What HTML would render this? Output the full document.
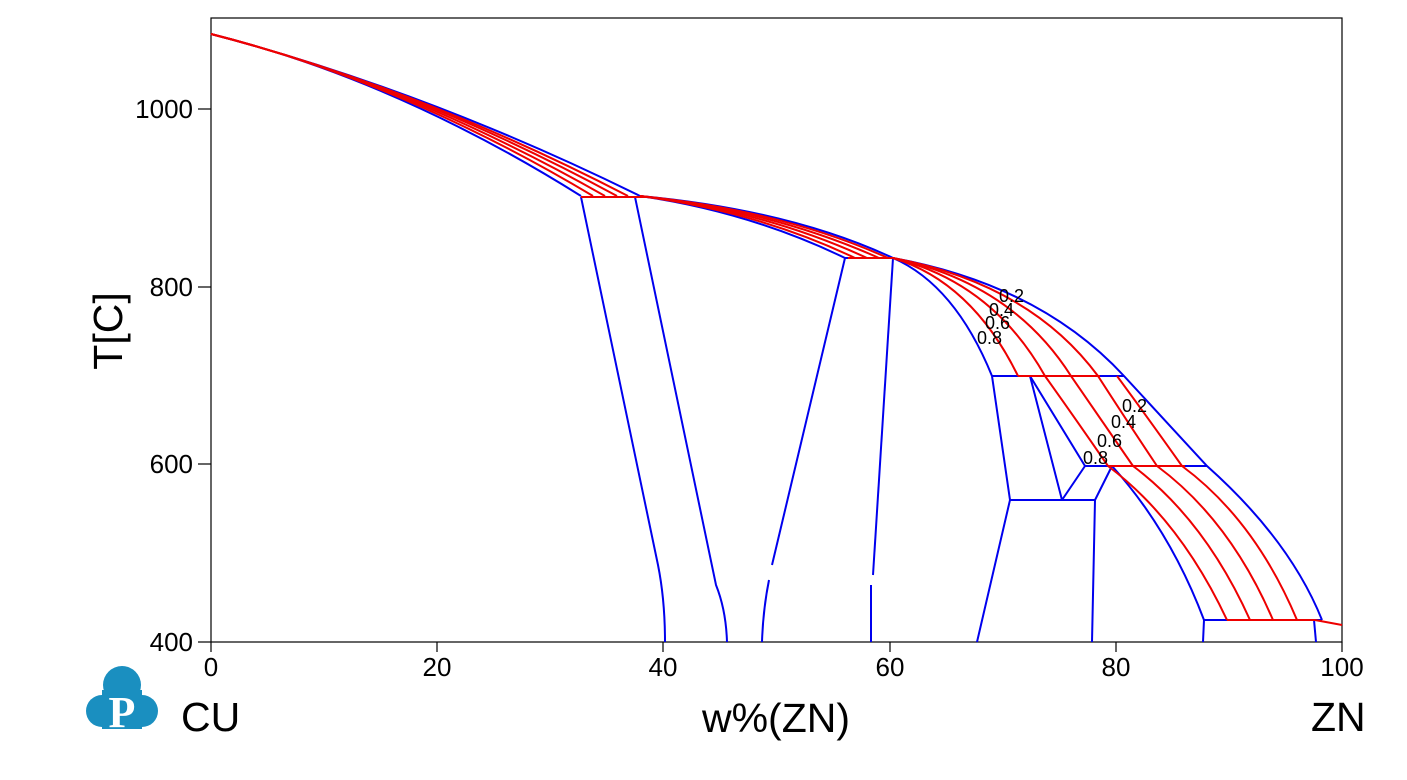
<!DOCTYPE html>
<html><head><style>body{margin:0;background:#fff}svg{display:block}</style></head><body>
<svg width="1407" height="780" xmlns="http://www.w3.org/2000/svg" font-family="Liberation Sans, sans-serif">
<rect x="211" y="18" width="1131" height="624" fill="none" stroke="#000" stroke-width="1.2"/>
<g stroke="#000" stroke-width="1.2">
<line x1="198" y1="642" x2="211" y2="642"/><line x1="198" y1="464" x2="211" y2="464"/><line x1="198" y1="287" x2="211" y2="287"/><line x1="198" y1="109" x2="211" y2="109"/>
<line x1="211" y1="642" x2="211" y2="652"/><line x1="437" y1="642" x2="437" y2="652"/><line x1="663" y1="642" x2="663" y2="652"/><line x1="890" y1="642" x2="890" y2="652"/><line x1="1116" y1="642" x2="1116" y2="652"/><line x1="1342" y1="642" x2="1342" y2="652"/>
</g>
<g font-size="26" fill="#000" text-anchor="end">
<text x="193" y="651">400</text><text x="193" y="473">600</text><text x="193" y="296">800</text><text x="193" y="118">1000</text>
</g>
<g font-size="26" fill="#000" text-anchor="middle">
<text x="211" y="676">0</text><text x="437" y="676">20</text><text x="663" y="676">40</text><text x="890" y="676">60</text><text x="1116" y="676">80</text><text x="1342" y="676">100</text>
</g>
<text transform="translate(122,331) rotate(-90)" font-size="41" text-anchor="middle">T[C]</text>
<text x="776" y="732" font-size="41" text-anchor="middle">w%(ZN)</text>
<text x="181" y="731" font-size="41">CU</text>
<text x="1311" y="731" font-size="41">ZN</text>
<!-- logo -->
<g fill="#1a8fc0">
<circle cx="122" cy="685" r="19"/><circle cx="102" cy="711" r="16"/><circle cx="142" cy="711" r="16"/><rect x="102" y="690" width="40" height="39"/>
</g>
<text x="122" y="727" font-size="44" font-weight="bold" font-family="Liberation Serif, serif" fill="#fff" text-anchor="middle">P</text>
<!-- blue boundaries -->
<g fill="none" stroke="#00e" stroke-width="2">
<path d="M211,34 Q425,90 640,196"/><path d="M211,34 Q396,80 581,196"/>
<line x1="581" y1="197" x2="640" y2="197"/>
<path d="M640,196 Q790,210 893,258"/><path d="M640,196 Q750,212 845,258"/>
<line x1="845" y1="258" x2="893" y2="258"/>
<path d="M893,258 Q1040,285 1124,376 L1207,466 Q1290,540 1322,620"/>
<path d="M893,258 Q955,285 992,376"/>
<line x1="992" y1="376" x2="1124" y2="376"/>
<line x1="1085" y1="466" x2="1207" y2="466"/>
<path d="M581,197 L658,565 Q665,600 665,642"/>
<path d="M635,197 L716,585 Q726,610 727,642"/>
<path d="M845,258 L772,565"/><path d="M769,580 Q763,610 762,642"/>
<path d="M893,258 L873,575"/><path d="M871,585 L871,642"/>
<path d="M992,376 L1010,500 L977,642"/>
<path d="M1030,376 L1062,500"/><path d="M1030,376 L1085,466 L1062,500"/>
<line x1="1010" y1="500" x2="1095" y2="500"/>
<path d="M1112,466 L1095,500 L1092,642"/>
<path d="M1112,466 Q1170,530 1204,620 L1203,642"/>
<line x1="1204" y1="620" x2="1322" y2="620"/>
<path d="M1314,620 L1316,642"/>
</g>
<!-- red tie lines -->
<g fill="none" stroke="#e00" stroke-width="2">
<path d="M211,34 Q402,82 593,196"/><path d="M211,34 Q408,84 605,196"/><path d="M211,34 Q414,86 617,196"/><path d="M211,34 Q419,88 628,196"/>
<path d="M640,196 Q758,211.6 855,258"/><path d="M640,196 Q766,211.2 867,258"/><path d="M640,196 Q774,210.8 879,258"/><path d="M640,196 Q782,210.4 888,258"/>
<path d="M893,258 Q972,282 1018,376"/><path d="M893,258 Q992,282 1045,376"/><path d="M893,258 Q1012,283 1071,376"/><path d="M893,258 Q1030,284 1098,376"/>
<path d="M1045,376 Q1075,418 1108,466"/><path d="M1071,376 Q1100,418 1133,466"/><path d="M1098,376 Q1125,418 1157,466"/><path d="M1117,376 Q1148,418 1182,466"/>
<path d="M1108,466 Q1180,520 1227,620"/><path d="M1133,466 Q1205,520 1250,620"/><path d="M1157,466 Q1230,520 1273,620"/><path d="M1182,466 Q1255,520 1297,620"/>
<line x1="581" y1="197" x2="646" y2="197"/><line x1="848" y1="258" x2="893" y2="258"/>
<line x1="1018" y1="376" x2="1100" y2="376"/><line x1="1108" y1="466" x2="1185" y2="466"/>
<line x1="1227" y1="620" x2="1315" y2="620"/><line x1="1315" y1="620" x2="1342" y2="625"/>
</g>
<g font-size="18" fill="#000">
<text x="999" y="302">0.2</text><text x="989" y="316">0.4</text><text x="985" y="329">0.6</text><text x="977" y="344">0.8</text>
<text x="1122" y="412">0.2</text><text x="1111" y="428">0.4</text><text x="1097" y="447">0.6</text><text x="1083" y="464">0.8</text>
</g>
</svg>
</body></html>
